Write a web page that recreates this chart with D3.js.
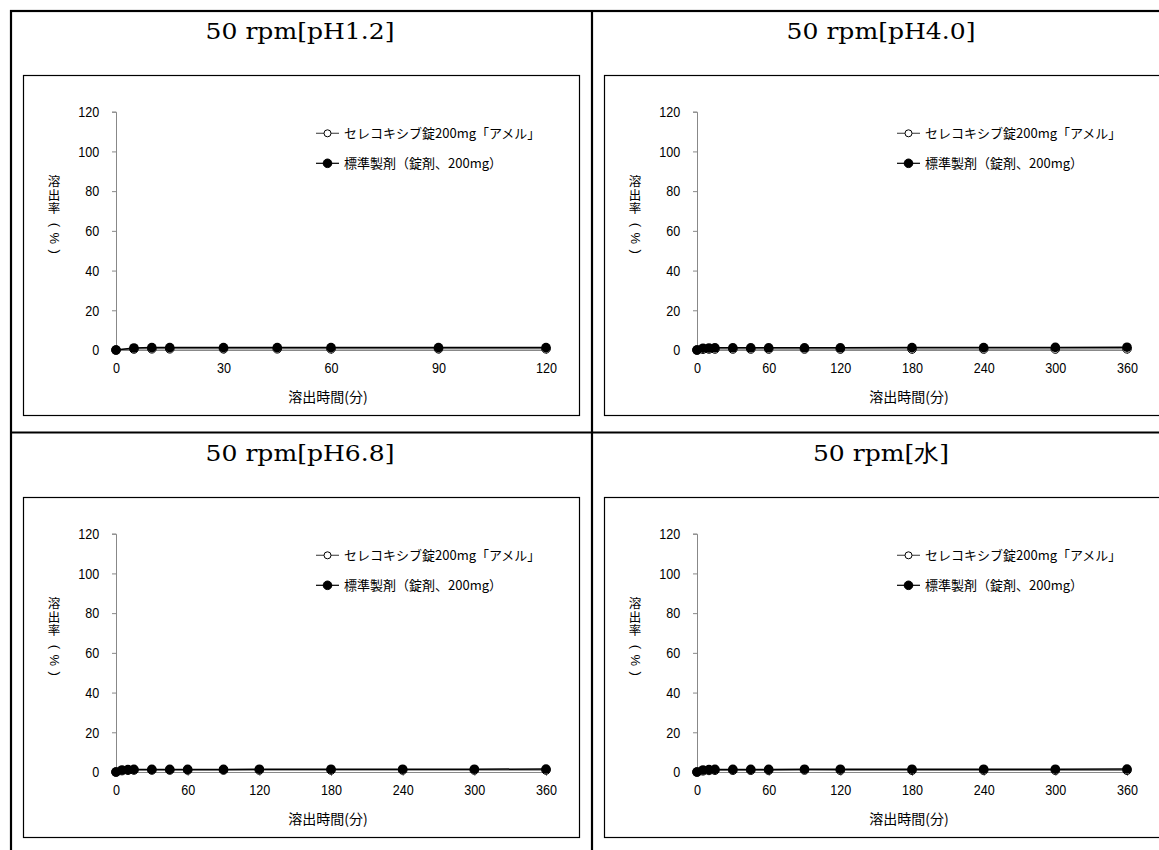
<!DOCTYPE html>
<html>
<head>
<meta charset="utf-8">
<script src="https://cdn.jsdelivr.net/npm/d3@7/dist/d3.min.js"></script>
<style>
  html, body { margin: 0; padding: 0; background: #fff; }
  svg { display: block; }
</style>
</head>
<body>
<svg id="chart" width="1159" height="850"></svg>
<script>
// ---------------- DATA ----------------
const panelTitles = ["50 rpm[pH1.2]", "50 rpm[pH4.0]", "50 rpm[pH6.8]", "50 rpm[水]"];
const seriesNames = ["セレコキシブ錠200mg「アメル」", "標準製剤（錠剤、200mg）"];

const timesShort = [0, 5, 10, 15, 30, 45, 60, 90, 120];
const timesLong  = [0, 5, 10, 15, 30, 45, 60, 90, 120, 180, 240, 300, 360];

// test product (open circles)
const testPH12  = [0, 0.5, 0.6, 0.6, 0.6, 0.6, 0.6, 0.6, 0.6];
const testPH40  = [0, 0.4, 0.5, 0.5, 0.5, 0.5, 0.5, 0.5, 0.5, 0.5, 0.5, 0.5, 0.6];
const testPH68  = [0, 0.7, 0.9, 1.0, 1.0, 1.0, 1.0, 1.0, 1.0, 1.0, 1.0, 1.0, 1.0];
const testWater = [0, 0.6, 0.8, 0.9, 0.9, 0.9, 0.9, 1.0, 0.9, 0.9, 0.9, 0.9, 0.9];

// reference product (filled circles)
const refPH12  = [0, 1.0, 1.2, 1.2, 1.2, 1.2, 1.2, 1.2, 1.2];
const refPH40  = [0, 0.9, 1.0, 1.1, 1.1, 1.1, 1.1, 1.1, 1.1, 1.2, 1.2, 1.3, 1.4];
const refPH68  = [0, 1.0, 1.2, 1.3, 1.3, 1.3, 1.3, 1.3, 1.4, 1.4, 1.4, 1.4, 1.5];
const refWater = [0, 1.0, 1.2, 1.3, 1.3, 1.3, 1.3, 1.4, 1.4, 1.4, 1.4, 1.4, 1.5];

const xTicks120 = [0, 30, 60, 90, 120];
const xTicks360 = [0, 60, 120, 180, 240, 300, 360];
const yTicks = [0, 20, 40, 60, 80, 100, 120];

const xAxisTitle = "溶出時間(分)";
const yAxisTitleUpright = "溶出率";
const yAxisTitleRotated = "(%)";

const panels = [
  { title: panelTitles[0], times: timesShort, test: testPH12,  ref: refPH12,  xMax: 120, xTicks: xTicks120 },
  { title: panelTitles[1], times: timesLong,  test: testPH40,  ref: refPH40,  xMax: 360, xTicks: xTicks360 },
  { title: panelTitles[2], times: timesLong,  test: testPH68,  ref: refPH68,  xMax: 360, xTicks: xTicks360 },
  { title: panelTitles[3], times: timesLong,  test: testWater, ref: refWater, xMax: 360, xTicks: xTicks360 }
];

// ---------------- LAYOUT ----------------
const svg = d3.select("#chart");
const colOff = [0, 581];
const rowOff = [0, 422];
const numFont = "'Liberation Sans', Arial, sans-serif";
const jpFont = "'Noto Sans CJK JP', sans-serif";

// outer table
const tbl = svg.append("g");
tbl.append("rect").attr("x", 11).attr("y", 11).attr("width", 1200).attr("height", 900)
  .attr("fill", "none").attr("stroke", "#000").attr("stroke-width", 2.2);
tbl.append("line").attr("x1", 592).attr("x2", 592).attr("y1", 11).attr("y2", 900)
  .attr("stroke", "#000").attr("stroke-width", 2.2);
tbl.append("line").attr("x1", 11).attr("x2", 1200).attr("y1", 432.5).attr("y2", 432.5)
  .attr("stroke", "#000").attr("stroke-width", 2.2);

panels.forEach((p, i) => {
  const ox = colOff[i % 2], oy = rowOff[Math.floor(i / 2)];
  const g = svg.append("g").attr("transform", `translate(${ox},${oy})`);

  // title
  g.append("text").attr("transform", "translate(300,38.5) scale(1.09,1)").attr("text-anchor", "middle")
    .attr("font-family", "'DejaVu Serif', 'Liberation Serif', serif")
    .attr("font-size", 23).attr("fill", "#000").text(p.title);

  // chart frame
  g.append("rect").attr("x", 23.5).attr("y", 75.5).attr("width", 556).attr("height", 340)
    .attr("fill", "#fff").attr("stroke", "#000").attr("stroke-width", 1.2);

  const x = d3.scaleLinear().domain([0, p.xMax]).range([116, 546]);
  const y = d3.scaleLinear().domain([0, 120]).range([350, 111.7]);

  // y axis
  const ya = g.append("g").attr("transform", "translate(116,0)")
    .call(d3.axisLeft(y).tickValues(yTicks).tickSize(4).tickPadding(16).tickFormat(d3.format("d")));
  ya.select(".domain").attr("stroke", "#888");
  ya.selectAll(".tick line").attr("stroke", "#888");
  ya.selectAll(".tick text").attr("font-family", numFont).attr("font-size", 15).attr("fill", "#000")
    .attr("transform", "scale(0.84,1)");

  // x axis
  const xa = g.append("g").attr("transform", `translate(0,${y(0)})`)
    .call(d3.axisBottom(x).tickValues(p.xTicks).tickSize(4).tickSizeOuter(0).tickPadding(8).tickFormat(d3.format("d")));
  xa.select(".domain").attr("stroke", "#888");
  xa.selectAll(".tick line").attr("stroke", "#888");
  xa.selectAll(".tick text").attr("font-family", numFont).attr("font-size", 15).attr("fill", "#000")
    .attr("transform", "scale(0.84,1)");

  // axis titles
  g.append("text").attr("x", 328).attr("y", 401.5).attr("text-anchor", "middle")
    .attr("font-family", jpFont).attr("font-size", 14).attr("fill", "#000").text(xAxisTitle);

  // vertical y-axis title: one text element rotated 90deg; CJK glyphs counter-rotated upright
  const fJ = 12.5, fN = 13;
  const cjkCenters = [181.7, 195, 208.3];
  const yt = g.append("text").attr("transform", "translate(54,0) rotate(90)").attr("fill", "#000");
  yt.append("tspan").attr("font-family", jpFont).attr("font-size", fJ)
    .attr("x", cjkCenters.map(c => (c + 0.38 * fJ).toFixed(2)).join(" "))
    .attr("y", cjkCenters.map(() => (0.5 * fJ).toFixed(2)).join(" "))
    .attr("rotate", "-90").text(yAxisTitleUpright);
  yt.append("tspan").attr("font-family", numFont).attr("font-size", fN)
    .attr("x", [225 - 2.2, 238.3 - 5.8, 251.7 - 2.2].join(" "))
    .attr("y", [3.4, 4.5, 3.4].join(" "))
    .text(yAxisTitleRotated);

  const line = d3.line().x(d => x(d[0])).y(d => y(d[1]));
  const testPts = p.times.map((t, k) => [t, p.test[k]]);
  const refPts = p.times.map((t, k) => [t, p.ref[k]]);

  g.append("path").datum(testPts).attr("d", line).attr("fill", "none")
    .attr("stroke", "#808080").attr("stroke-width", 1.5);
  g.append("path").datum(refPts).attr("d", line).attr("fill", "none")
    .attr("stroke", "#000").attr("stroke-width", 1.5);

  g.selectAll(".mt").data(testPts).enter().append("circle")
    .attr("cx", d => x(d[0])).attr("cy", d => y(d[1])).attr("r", 4.3)
    .attr("fill", "#fff").attr("stroke", "#000").attr("stroke-width", 1);
  g.selectAll(".mr").data(refPts).enter().append("circle")
    .attr("cx", d => x(d[0])).attr("cy", d => y(d[1])).attr("r", 4.8)
    .attr("fill", "#000");

  // legend
  const lg = g.append("g");
  const ly = [133.3, 163.3];
  [0, 1].forEach(k => {
    lg.append("line").attr("x1", 316).attr("x2", 339).attr("y1", ly[k]).attr("y2", ly[k])
      .attr("stroke", k === 0 ? "#555" : "#000").attr("stroke-width", 1.2);
    lg.append("circle").attr("cx", 327.5).attr("cy", ly[k]).attr("r", k === 0 ? 3.5 : 4.3)
      .attr("fill", k === 0 ? "#fff" : "#000").attr("stroke", "#000").attr("stroke-width", 1);
    lg.append("text").attr("x", 344).attr("y", ly[k]).attr("dy", "0.36em")
      .attr("font-family", jpFont).attr("font-size", 13).attr("fill", "#000").text(seriesNames[k]);
  });
});
</script>
</body>
</html>
